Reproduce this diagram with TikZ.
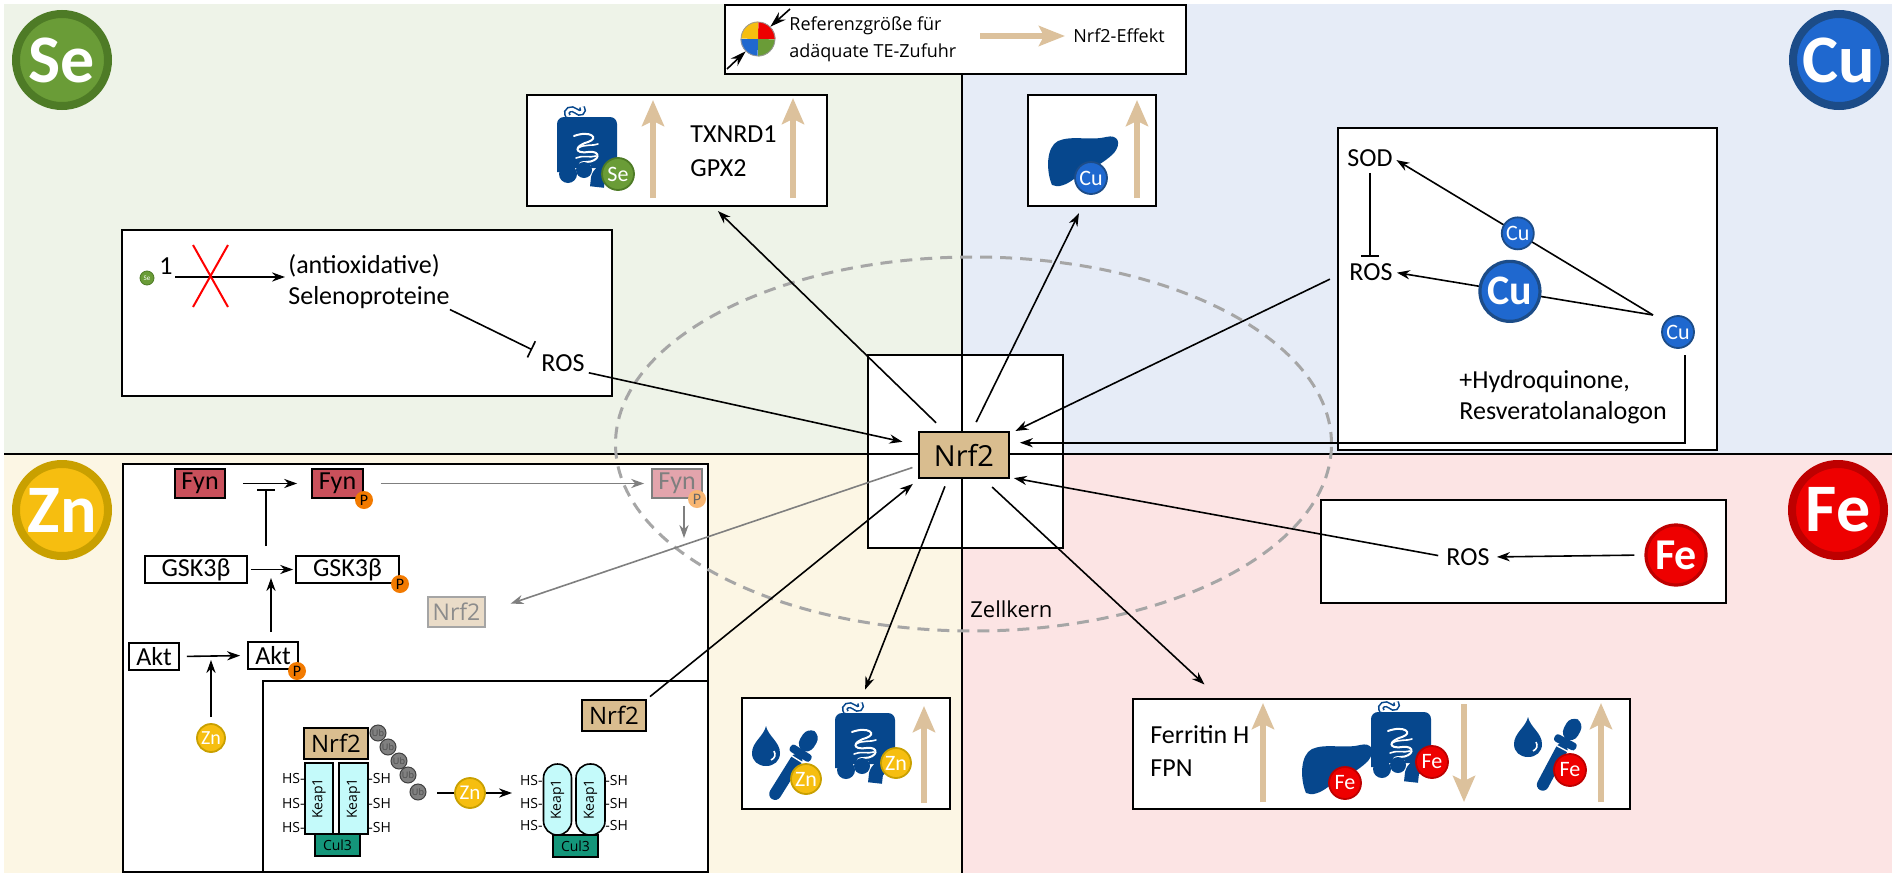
\documentclass[tikz,border=0pt]{standalone}
\usepackage{fontspec}
\setmainfont{Carlito}
\newfontfamily\opensans{Open Sans}
\usepackage{xcolor}
\usepackage{tikz}
\usetikzlibrary{arrows.meta}

\newcommand{\fsz}[1]{\fontsize{#1}{#1}\selectfont}

\definecolor{sebg}{HTML}{EEF3E8}
\definecolor{cubg}{HTML}{E6ECF7}
\definecolor{znbg}{HTML}{FCF6E4}
\definecolor{febg}{HTML}{FCE4E4}
\definecolor{secol}{HTML}{6A9C37}
\definecolor{seedge}{HTML}{4E7B26}
\definecolor{cucol}{HTML}{1F68CF}
\definecolor{cuedge}{HTML}{1C4C88}
\definecolor{zncol}{HTML}{F6BE10}
\definecolor{znedge}{HTML}{C9A000}
\definecolor{fecol}{HTML}{EE0000}
\definecolor{feedge}{HTML}{BE0000}
\definecolor{nrfcol}{HTML}{D9BD8F}
\definecolor{tanarr}{HTML}{DCC19C}
\definecolor{iconblue}{HTML}{06478D}
\definecolor{fyncol}{HTML}{C9505B}
\definecolor{fynfade}{HTML}{E3A4AC}
\definecolor{nrffade}{HTML}{EADCC8}
\definecolor{keapcol}{HTML}{C4FAFA}
\definecolor{culcol}{HTML}{14967A}
\definecolor{pcol}{HTML}{F27A00}
\definecolor{ubcol}{HTML}{808080}
\definecolor{dashcol}{HTML}{A6A6A6}
\definecolor{fadegray}{HTML}{7F7F7F}

% intestine icon, #1 = upper left corner
\newcommand{\gut}[1]{%
\begin{scope}[shift={#1}]
  \fill[iconblue, rounded corners=2pt] (14,20) rectangle (52,60);
  \draw[white, line width=1pt, line cap=round]
    (20,28) .. controls (36,22) and (46,30) .. (34,34) .. controls (20,38) and (20,46) .. (34,44)
    .. controls (48,42) and (46,54) .. (32,54) .. controls (22,54) and (24,60) .. (36,58);
  \draw[white, line width=0.8pt, line cap=round] (24,40) .. controls (30,36) and (40,38) .. (44,36)
    (22,50) .. controls (28,47) and (36,50) .. (42,48);
  \draw[iconblue, line width=7pt, line join=round] (10,64) -- (10,16) -- (56,16) -- (56,54)
    .. controls (56,64) and (46,62) .. (44,70) -- (43,79);
  \fill[iconblue] (14,66) circle (4.5pt);
  \fill[iconblue] (30,62) circle (4pt);
  \draw[draw=iconblue, double=white, line width=0.8pt, double distance=1.4pt]
    (14,8) .. controls (10,2) and (18,-1) .. (22,3) .. controls (26,7) and (31,4) .. (28,-1);
\end{scope}}

% liver icon, #1 = upper left corner
\newcommand{\liver}[1]{%
\begin{scope}[shift={#1}]
  \fill[iconblue] (6,50) .. controls (0,36) and (0,12) .. (12,6) .. controls (26,0) and (44,6) .. (60,2)
    .. controls (72,-1) and (76,8) .. (68,18) .. controls (56,30) and (40,36) .. (28,44)
    .. controls (20,50) and (12,53) .. (6,50) -- cycle;
\end{scope}}

% blood drop, #1 = upper left corner
\newcommand{\drop}[1]{%
\begin{scope}[shift={#1}]
  \fill[iconblue] (14,0) .. controls (16,10) and (28,16) .. (28,27) .. controls (28,35) and (22,40) .. (14,40)
    .. controls (6,40) and (0,35) .. (0,27) .. controls (0,16) and (12,10) .. (14,0) -- cycle;
  \draw[white, line width=0.8pt] (22,25) .. controls (24,29) and (23,32) .. (19,34);
\end{scope}}

% pipette, #1 = tip, #2 = angle
\newcommand{\dropper}[2]{%
\begin{scope}[shift={#1}, rotate=#2]
  \fill[iconblue, rounded corners=3pt] (0,-6) rectangle (52,6);
  \fill[iconblue, rounded corners=1.5pt] (50,-12) rectangle (58,12);
  \fill[iconblue, rounded corners=4.5pt] (57,-8) rectangle (80,8);
  \draw[white, line width=0.7pt] (47,-7) -- (47,7);
\end{scope}}

\begin{document}
\begin{tikzpicture}[x=0.5pt, y=-0.5pt, font=\fsz{13}]
\tikzstyle{block} = [rectangle, draw, fill=white, line width=0.9pt, inner sep=0pt]
\tikzstyle{prot} = [rectangle, draw, line width=0.9pt, inner sep=0pt]
\tikzstyle{nrf} = [prot, fill=nrfcol, font=\opensans\fsz{11.5}]
\tikzstyle{lbl} = [inner sep=0pt, anchor=west]
\tikzstyle{line} = [draw, line width=0.8pt, -{Stealth[length=6.5pt, width=4.6pt]}]
\tikzstyle{gline} = [line, draw=fadegray]
\tikzstyle{inhib} = [draw, line width=0.8pt, -{Bar[width=9pt]}]
\tikzstyle{tanarrow} = [draw=tanarr, line width=2.6pt, -{Stealth[length=13pt, width=11pt, inset=2.5pt]}]
\tikzstyle{elem} = [circle, inner sep=0pt, minimum size=46pt, line width=4pt, text=white, font=\bfseries\fsz{34}]
\tikzstyle{sm} = [circle, inner sep=0pt, minimum size=16pt, line width=0.9pt, text=white, font=\fsz{11}]
\tikzstyle{big} = [sm, minimum size=30pt, line width=1.6pt, font=\bfseries\fsz{21}]
\tikzstyle{secirc} = [fill=secol, draw=seedge]
\tikzstyle{cucirc} = [fill=cucol, draw=cuedge]
\tikzstyle{zncirc} = [fill=zncol, draw=znedge]
\tikzstyle{fecirc} = [fill=fecol, draw=feedge]
\tikzstyle{phos} = [circle, fill=pcol, inner sep=0pt, minimum size=9pt, font=\fsz{8}]
\tikzstyle{keap} = [rectangle, draw, fill=keapcol, line width=0.8pt, inner sep=0pt, rotate=90, minimum width=35.5pt, minimum height=14pt, font=\opensans\fsz{7}]
\tikzstyle{cul} = [rectangle, draw, fill=culcol, line width=0.8pt, inner sep=0pt, minimum width=22.5pt, minimum height=11pt, font=\opensans\fsz{7}]
\tikzstyle{tag} = [inner sep=0pt, font=\opensans\fsz{7}]
\tikzstyle{ub} = [circle, draw=black!75, fill=ubcol, line width=0.5pt, inner sep=0pt, minimum size=8pt, font=\opensans\fsz{4.5}, text=black!70]

\useasboundingbox (0,0) rectangle (1892,873);

% four quadrants
\fill[sebg] (4,4) rectangle (962,454);
\fill[cubg] (962,4) rectangle (1892,454);
\fill[znbg] (4,454) rectangle (962,873);
\fill[febg] (962,454) rectangle (1892,873);

% nucleus frame and dividers
\node[block, minimum width=97.5pt, minimum height=96.5pt] (kern) at (965.5,451.5) {};
\draw[line width=1.2pt] (4,454) -- (1892,454);
\draw[line width=1.2pt] (962,74) -- (962,873);

% legend
\node[block, minimum width=230.5pt, minimum height=34.5pt] (legend) at (955.5,39.5) {};
\node[circle, minimum size=17pt, inner sep=0pt] (pie) at (758,39) {};
\fill[fecol] (pie.center) -- (pie.east) arc[start angle=0, end angle=90, radius=8.5pt] -- cycle;
\fill[zncol] (pie.center) -- (pie.north) arc[start angle=90, end angle=180, radius=8.5pt] -- cycle;
\fill[cucol] (pie.center) -- (pie.west) arc[start angle=180, end angle=270, radius=8.5pt] -- cycle;
\fill[secol] (pie.center) -- (pie.south) arc[start angle=270, end angle=360, radius=8.5pt] -- cycle;
\draw[black!40, line width=0.4pt] (pie) circle (8.5pt);
\coordinate (dimA) at (790,9);
\coordinate (dimB) at (727,69);
\path[line, -{Stealth[length=8pt, width=5pt]}] (dimA) -- (pie.45);
\path[line, -{Stealth[length=8pt, width=5pt]}] (dimB) -- (pie.225);
\node[lbl, font=\opensans\fsz{9}] (ref1) at (789,26) {Referenzgröße für};
\node[lbl, font=\opensans\fsz{9}] (ref2) at (789,53) {adäquate TE-Zufuhr};
\coordinate (effA) at (980,36);
\node[lbl, font=\opensans\fsz{9}] (effnote) at (1073,36) {Nrf2-Effekt};
\path[tanarrow, -{Stealth[length=13pt, width=10pt, inset=2.5pt]}, shorten >=4pt] (effA) -- (effnote.west);

% ---- selenium ----
\node[elem, secirc] (se) at (62,60) {Se};
\node[block, minimum width=150pt, minimum height=55.5pt] (segut) at (677,150.5) {};
\gut{(554,108)}
\node[sm, secirc] (segutse) at (618,174) {Se};
\draw[tanarrow] (653,198) -- (653,100);
\draw[tanarrow] (793,198) -- (793,98);
\node[lbl] (txnrd) at (690,134) {TXNRD1};
\node[lbl] (gpx) at (690,168) {GPX2};

\node[block, minimum width=245pt, minimum height=83pt] (sebox) at (367,313) {};
\node[sm, secirc, minimum size=7pt, line width=0.4pt, font=\fsz{3.5}] (setiny) at (147,278) {Se};
\node[inner sep=0pt] (seone) at (166,266) {1};
\node[lbl] (antiox) at (288,266) {(antioxidative)};
\node[lbl] (selenop) at (288,298) {Selenoproteine};
\node[inner sep=0pt] (rosse) at (563,363) {ROS};
\coordinate (sestart) at (175,277);
\path[line, shorten >=1.5pt] (sestart) -- (sestart -| antiox.west);
\draw[red, line width=1pt] (193,245) -- (228,307) (228,245) -- (193,307);
\path[inhib, shorten >=5pt] (selenop.south east) -- (rosse.north west);

% ---- copper ----
\node[elem, cucirc] (cu) at (1839,60) {Cu};
\node[block, minimum width=64pt, minimum height=55.5pt] (culiv) at (1092,150.5) {};
\liver{(1046,135)}
\node[sm, cucirc] (culivcu) at (1091,178) {Cu};
\draw[tanarrow] (1137,198) -- (1137,100);

\node[block, minimum width=189.5pt, minimum height=161pt] (cubox) at (1527.5,289) {};
\node[inner sep=0pt] (sod) at (1370,158) {SOD};
\node[inner sep=0pt] (roscu) at (1371,272) {ROS};
\path[inhib, shorten <=3pt, shorten >=3pt] (sod.south) -- (sod.south |- roscu.north);
\coordinate (cuhub) at (1653,315);
\path[line, shorten >=2pt] (cuhub) -- node[sm, cucirc, pos=0.52] (cu1) {Cu} (sod.east);
\path[line, shorten >=2pt] (cuhub) -- node[big, cucirc, pos=0.55] (cu2) {Cu} (roscu.east);
\node[sm, cucirc] (cu3) at (1678,332) {Cu};
\node[lbl] (hq) at (1459,382) {+Hydroquinone,};
\node[lbl] (resv) at (1459,413) {Resveratolanalogon};

% ---- zinc ----
\node[elem, zncirc] (zn) at (62,510) {Zn};
\node[block, minimum width=292.5pt, minimum height=204pt] (znbox) at (415.5,668) {};
\node[block, minimum width=222.5pt, minimum height=95.5pt] (zninner) at (485.5,776.5) {};

\node[prot, fill=fyncol, minimum width=25pt, minimum height=14.5pt] (fyn1) at (200,483.5) {Fyn};
\node[prot, fill=fyncol, minimum width=25.5pt, minimum height=14.5pt] (fyn2) at (337.5,483.5) {Fyn};
\node[phos] (p1) at (364,500) {P};
\node[prot, fill=fynfade, draw=fadegray, text=fadegray, minimum width=25pt, minimum height=14.5pt] (fyn3) at (677,483.5) {Fyn};
\node[phos, fill=pcol!55, text=black!60] (p2) at (697,499) {P};
\node[prot, minimum width=51pt, minimum height=13.5pt] (gsk1) at (196,569.5) {GSK3β};
\node[prot, minimum width=51.5pt, minimum height=13.5pt] (gsk2) at (347.5,569.5) {GSK3β};
\node[phos] (p3) at (400,584) {P};
\node[prot, minimum width=25pt, minimum height=13.5pt] (akt1) at (154,656.5) {Akt};
\node[prot, minimum width=25pt, minimum height=13.5pt] (akt2) at (273,655.5) {Akt};
\node[phos] (p4) at (297,671) {P};
\node[sm, zncirc, minimum size=14pt, font=\fsz{10}] (zn1) at (211,738) {Zn};
\node[prot, fill=nrffade, draw=fadegray!70, text=black!45, font=\opensans\fsz{11.5}, minimum width=28.5pt, minimum height=15pt] (nrffade) at (456.5,612) {Nrf2};

\coordinate (fynmid) at (266,483);
\coordinate (gskmid) at (271,568);
\coordinate (aktmid) at (211,655);
\coordinate (fyndown) at (684,538);
\path[line, shorten <=8.5pt, shorten >=7pt] (fyn1.east) -- (fyn2.west);
\path[inhib, shorten <=4.5pt, shorten >=3pt] (fynmid |- gsk1.north) -- (fynmid);
\path[line, shorten <=1.5pt, shorten >=1pt] (gsk1.east) -- (gsk2.west);
\path[line, shorten <=4.5pt, shorten >=5pt] (akt2.north -| gskmid) -- (gskmid);
\path[line, shorten <=3.5pt, shorten >=3.5pt] (akt1.east) -- (akt2.west);
\path[line, shorten <=3pt, shorten >=2.5pt] (zn1.north) -- (aktmid);
\path[gline, shorten <=8.5pt, shorten >=3.5pt] (fyn2.east) -- (fyn3.west);
\path[gline, shorten <=3.5pt] (fyndown |- fyn3.south) -- (fyndown);

% Keap1 complex
\node[nrf, font=\opensans\fsz{12}, minimum width=32pt, minimum height=15.5pt] (znnrf) at (614,715.5) {Nrf2};
\node[nrf, font=\opensans\fsz{12}, minimum width=32pt, minimum height=15.5pt] (cxnrf) at (336,743.5) {Nrf2};
\node[keap] (k1) at (319,798.5) {Keap1};
\node[keap, minimum height=14.5pt] (k2) at (353.5,798.5) {Keap1};
\node[cul] (cul1) at (337.5,845) {Cul3};
\node[tag, anchor=east] (hs1) at (305,778) {HS-};
\node[tag, anchor=east] (hs2) at (305,803) {HS-};
\node[tag, anchor=east] (hs3) at (305,827) {HS-};
\node[tag, anchor=west] (sh1) at (368,778) {-SH};
\node[tag, anchor=west] (sh2) at (368,803) {-SH};
\node[tag, anchor=west] (sh3) at (368,827) {-SH};
\node[ub] (ub1) at (378,733) {Ub};
\node[ub] (ub2) at (388,747) {Ub};
\node[ub] (ub3) at (399,761) {Ub};
\node[ub] (ub4) at (408,775) {Ub};
\node[ub] (ub5) at (418,792) {Ub};
\coordinate (cxout) at (437,793);
\coordinate (cxin) at (512,793);
\node[sm, zncirc, minimum size=15pt, font=\fsz{10.5}] (zn2) at (470,793) {Zn};
\draw[line width=0.8pt] (cxout) -- (zn2);
\path[line] (zn2) -- (cxin);
\node[keap, rounded corners=7pt] (k3) at (557.5,799.5) {Keap1};
\node[keap, rounded corners=7pt, minimum height=14.5pt] (k4) at (590.5,799.5) {Keap1};
\node[cul] (cul2) at (575.5,846) {Cul3};
\node[tag, anchor=east] (hs4) at (543,780) {HS-};
\node[tag, anchor=east] (hs5) at (543,803) {HS-};
\node[tag, anchor=east] (hs6) at (543,825) {HS-};
\node[tag, anchor=west] (sh4) at (605,780) {-SH};
\node[tag, anchor=west] (sh5) at (605,803) {-SH};
\node[tag, anchor=west] (sh6) at (605,825) {-SH};

% zinc uptake
\node[block, minimum width=104pt, minimum height=55.5pt] (zngut) at (846,753.5) {};
\drop{(752,726)}
\dropper{(772,799)}{58}
\node[sm, zncirc, minimum size=15pt] (zndrop) at (806,779) {Zn};
\gut{(832,704)}
\node[sm, zncirc, minimum size=15pt] (zngutzn) at (896,763) {Zn};
\draw[tanarrow] (924,803) -- (924,706);

% ---- iron ----
\node[elem, fecirc] (fe) at (1838,510) {Fe};
\node[block, minimum width=202.5pt, minimum height=51.5pt] (febox) at (1523.5,551.5) {};
\node[inner sep=0pt] (rosfe) at (1468,557) {ROS};
\node[big, fecirc, font=\bfseries\fsz{22}] (fe2) at (1676,555) {Fe};
\path[line, shorten <=5pt, shorten >=3.5pt] (fe2.west) -- (rosfe.east);

\node[block, minimum width=248.5pt, minimum height=55pt] (fegut) at (1381.5,754) {};
\node[lbl] (ferr) at (1150,735) {Ferritin H};
\node[lbl] (fpn) at (1150,768) {FPN};
\draw[tanarrow] (1263,802) -- (1263,703);
\liver{(1300,743)}
\gut{(1368,703)}
\node[sm, fecirc] (feliv) at (1345,783) {Fe};
\node[sm, fecirc] (fegutfe) at (1432,762) {Fe};
\draw[tanarrow] (1464,704) -- (1464,802);
\drop{(1514,717)}
\dropper{(1540,790)}{62}
\node[sm, fecirc] (fedrop) at (1570,770) {Fe};
\draw[tanarrow] (1601,802) -- (1601,703);

% nucleus
\draw[dashcol, line width=1.5pt, dash pattern=on 6pt off 4pt] (973.5,444) ellipse [x radius=179pt, y radius=93.5pt];
\node[lbl, font=\opensans\fsz{11}] (zk) at (970,609) {Zellkern};
\node[nrf, font=\opensans\fsz{14.5}, minimum width=45pt, minimum height=23pt] (nrf2) at (964,455) {Nrf2};

% links to and from Nrf2
\path[line, shorten <=2pt, shorten >=8pt] (rosse.south east) -- (nrf2.168);
\path[line, shorten <=6pt, shorten >=3pt] (nrf2.129) -- (segut.-57);
\path[line, shorten <=5pt, shorten >=3.5pt] (nrf2.72) -- (culiv.-100);
\path[line, shorten <=4pt, shorten >=3pt] (cubox.176) -- (nrf2.25);
\path[line, shorten <=4pt, shorten >=5pt] (cu3.-65) |- (nrf2.15);
\path[line, shorten <=4pt, shorten >=2pt] (rosfe.west) -- (nrf2.-26);
\path[line, shorten <=6pt, shorten >=10pt] (nrf2.-51) -- (fegut.161);
\path[line, shorten <=4pt, shorten >=4pt] (nrf2.-124) -- (zngut.74);
\path[line, shorten <=2pt, shorten >=4pt] (znnrf.north east) -- (nrf2.-152);
\path[gline, shorten <=3pt, shorten >=13pt] (nrf2.-167) -- (nrffade.east);
\end{tikzpicture}
\end{document}
